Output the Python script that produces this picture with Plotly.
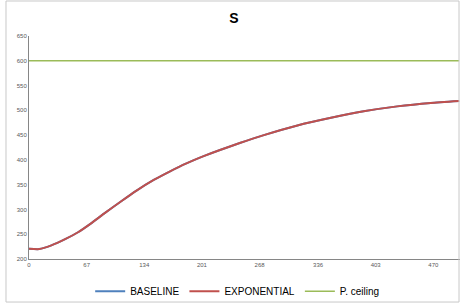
import plotly.graph_objects as go

# Data
x_vals = [0, 12, 26, 42, 57, 73, 88, 106, 125, 145, 164, 183, 203, 222, 245, 273, 312, 351, 389, 428, 467, 500]
baseline = [220.5, 220, 227.5, 240, 254, 273, 292.5, 315, 338, 359.5, 377, 393, 407.5, 420, 434, 450, 469.5, 485, 498, 508, 515, 519]
exponential = [220.5, 220, 227.5, 240, 254, 273, 292.5, 315, 338, 359.5, 377, 393, 407.5, 420, 434, 450, 469.5, 485, 498, 508, 515, 519]
ceiling_x = [0, 500]
ceiling = [600, 600]
x_ticks = [0, 67, 134, 201, 268, 336, 403, 470]
y_ticks = [200, 250, 300, 350, 400, 450, 500, 550, 600, 650]

fig = go.Figure()
fig.add_trace(go.Scatter(x=x_vals, y=baseline, mode="lines", name="BASELINE",
                         line=dict(color="#4F81BD", width=2, shape="spline", smoothing=0.5)))
fig.add_trace(go.Scatter(x=x_vals, y=exponential, mode="lines", name="EXPONENTIAL",
                         line=dict(color="#C0504D", width=2, shape="spline", smoothing=0.5)))
fig.add_trace(go.Scatter(x=ceiling_x, y=ceiling, mode="lines", name="P. ceiling",
                         line=dict(color="#9BBB59", width=1.5)))

fig.update_layout(
    width=463, height=307,
    margin=dict(l=29, r=3, t=36, b=48, autoexpand=False),
    paper_bgcolor="white", plot_bgcolor="white",
    title=dict(text="<b>S</b>", x=0.505, xanchor="center", y=0.94, yanchor="middle",
               font=dict(family="Liberation Sans, Arial", size=14, color="black")),
    legend=dict(orientation="h", x=0.483, xanchor="center", y=-0.145, yanchor="middle",
                font=dict(family="Liberation Sans, Arial", size=10, color="black"),
                bgcolor="rgba(0,0,0,0)"),
    font=dict(family="Liberation Sans, Arial", size=6, color="#595959"),
    shapes=[dict(type="rect", xref="paper", yref="paper",
                 x0=-0.0534, x1=0.9977, y0=-0.193, y1=1.157,
                 line=dict(color="#C8C8C8", width=1))],
)
fig.update_xaxes(range=[0, 501], tickmode="array", tickvals=x_ticks,
                 ticktext=[str(t) for t in x_ticks], automargin=False,
                 showgrid=False, zeroline=False, showline=True, linecolor="#868686",
                 linewidth=1, ticks="", tickfont=dict(size=6, color="#595959"))
fig.update_yaxes(range=[200, 650], tickmode="array", tickvals=y_ticks, automargin=False,
                 showgrid=False, zeroline=False, showline=True, linecolor="#868686",
                 linewidth=1, ticks="", tickfont=dict(size=6, color="#595959"))

fig.write_html("out.html", config={"displayModeBar": False},
               post_script="document.body.style.margin='0';")
